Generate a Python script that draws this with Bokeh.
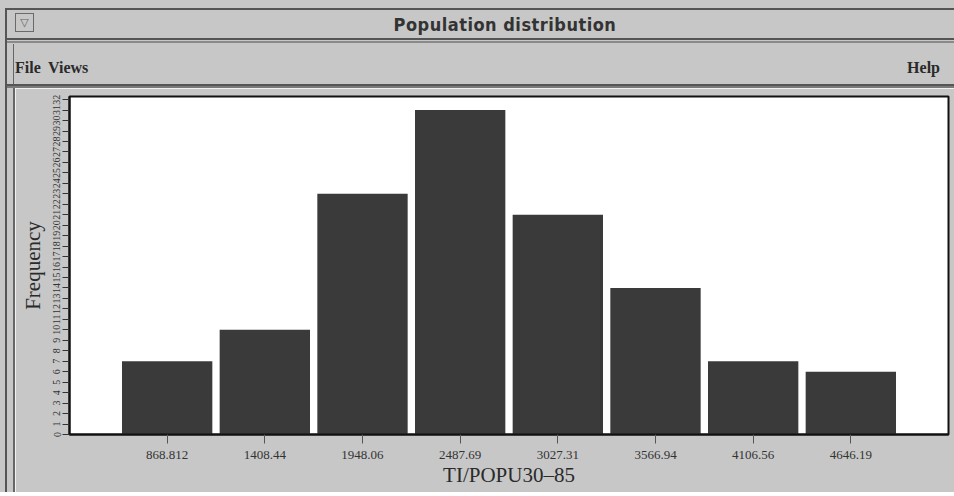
from bokeh.plotting import figure
from bokeh.models import Range1d, FixedTicker, Div
from bokeh.layouts import column, row
from bokeh.embed import file_html
from bokeh.resources import INLINE

# Histogram of TI/POPU30-85: bin centres, their printed labels and counts
bin_centers = [868.812, 1408.44, 1948.06, 2487.69, 3027.31, 3566.94, 4106.56, 4646.19]
bin_labels = ["868.812", "1408.44", "1948.06", "2487.69", "3027.31", "3566.94", "4106.56", "4646.19"]
frequencies = [7, 10, 23, 31, 21, 14, 7, 6]
freq_ticks = list(range(0, 33))

window_title = "Population distribution"
menu_left = ["File", "Views"]
menu_right = "Help"

bin_width = (bin_centers[-1] - bin_centers[0]) / (len(bin_centers) - 1)

W = 954
HEADER_H, SIDE_W, FOOT_H = 88, 15, 4
PLOT_H = 496 - HEADER_H - FOOT_H
WIN_GRAY = "#c7c7c7"
LINE = "#555555"
DARK = "#2a2a2a"
SERIF = "Liberation Serif"


def block(l, t, w, h, css):
    return (f'<div style="position:absolute;left:{l}px;top:{t}px;width:{w}px;'
            f'height:{h}px;{css}"></div>')


def word(l, t, s, css):
    return f'<div style="position:absolute;left:{l}px;top:{t}px;white-space:nowrap;{css}">{s}</div>'


# --- title bar and menu bar -------------------------------------------------
menu_css = (f"font-family:'{SERIF}',serif;font-weight:bold;font-size:16px;"
            f"color:{DARK};line-height:18px;")
header_parts = [
    block(0, 0, W, HEADER_H, f"background:{WIN_GRAY};"),
    block(5, 8, W - 5, 2, f"background:{LINE};"),
    block(5, 8, 2, HEADER_H - 8, f"background:{LINE};"),
    block(13, 44, 1, HEADER_H - 44, "background:#666666;"),
    # window-menu button
    block(15, 13, 19, 19, "border:1px solid #6a6a6a;box-sizing:border-box;"),
    word(17, 13, "\u25bd", "font-family:'DejaVu Sans';font-size:11px;color:#666;"
                          "width:15px;text-align:center;line-height:19px;"),
    # title
    f'<div style="position:absolute;left:0;top:15px;width:1010px;text-align:center;'
    f"font-family:'Liberation Sans Narrow','DejaVu Sans Condensed',sans-serif;"
    f'font-weight:bold;font-size:18px;letter-spacing:0.5px;color:#333;line-height:20px;">'
    f'{window_title}</div>',
    # separators
    block(7, 38, W - 7, 2, f"background:{LINE};"),
    block(7, 41, W - 7, 2, "background:#8a8a8a;"),
    block(7, 84, W - 7, 2, f"background:{LINE};"),
    block(7, 86, W - 7, 2, "background:#7a7a7a;"),
    word(15, 59, menu_left[0], menu_css),
    word(48, 59, menu_left[1], menu_css),
    f'<div style="position:absolute;right:14px;top:59px;{menu_css}">{menu_right}</div>',
]
header = Div(text='<div style="position:relative;width:954px;height:88px;overflow:hidden;">'
             + "".join(header_parts) + "</div>",
             width=W, height=HEADER_H, margin=0)

# --- left window edge beside the plot ----------------------------------------
side = Div(text=f'<div style="position:relative;width:{SIDE_W}px;height:{PLOT_H}px;'
           f'background:{WIN_GRAY};overflow:hidden;">'
           + block(5, 0, 2, PLOT_H, f"background:{LINE};")
           + block(13, 0, 2, PLOT_H, "background:#666666;")
           + "</div>",
           width=SIDE_W, height=PLOT_H, margin=0)

# --- bottom window edge -----------------------------------------------------
footer = Div(text=f'<div style="position:relative;width:{W}px;height:{FOOT_H}px;'
             f'background:{WIN_GRAY};overflow:hidden;">'
             + block(5, 0, 2, FOOT_H, f"background:{LINE};")
             + block(13, 0, 2, 1, "background:#666666;")
             + block(5, 2, W - 5, 2, f"background:{LINE};")
             + "</div>",
             width=W, height=FOOT_H, margin=0)

# --- histogram ----------------------------------------------------------------
FRAME_LEFT, FRAME_TOP, FRAME_BOTTOM, FRAME_RIGHT = 69, 96, 434, 948
p = figure(width=W - SIDE_W, height=PLOT_H, output_backend="svg", toolbar_location=None,
           x_range=Range1d(bin_centers[0] - bin_width, bin_centers[-1] + bin_width),
           y_range=Range1d(0, 32.3),
           min_border_left=FRAME_LEFT - SIDE_W, min_border_right=W - FRAME_RIGHT,
           min_border_top=FRAME_TOP - HEADER_H,
           min_border_bottom=HEADER_H + PLOT_H - FRAME_BOTTOM, margin=0)
p.background_fill_color = "white"
p.border_fill_color = WIN_GRAY
p.outline_line_color = "#111111"
p.outline_line_width = 2
p.grid.visible = False

p.vbar(x=bin_centers, top=frequencies, width=bin_width * 0.925,
       fill_color="#3a3a3a", line_color=None)

# x axis: one tick per bin centre
xa = p.xaxis[0]
xa.ticker = FixedTicker(ticks=bin_centers)
xa.major_label_overrides = {c: l for c, l in zip(bin_centers, bin_labels)}
xa.axis_label = "TI/POPU30\u201385"
xa.axis_label_text_font = SERIF
xa.axis_label_text_font_size = "21px"
xa.axis_label_text_font_style = "normal"
xa.axis_label_text_color = DARK
xa.axis_label_standoff = 1
xa.major_label_text_font = SERIF
xa.major_label_text_font_size = "13px"
xa.major_label_text_color = "#333333"
xa.major_label_standoff = 7
xa.major_tick_in = 0
xa.major_tick_out = 9
xa.major_tick_line_color = "#555555"
xa.minor_tick_line_color = None
xa.axis_line_color = "#111111"
xa.axis_line_width = 2

# y axis: every integer count, labels turned upright
ya = p.yaxis[0]
ya.ticker = FixedTicker(ticks=freq_ticks)
ya.major_label_orientation = "vertical"
ya.axis_label = "Frequency"
ya.axis_label_text_font = SERIF
ya.axis_label_text_font_size = "21px"
ya.axis_label_text_font_style = "normal"
ya.axis_label_text_color = DARK
ya.axis_label_standoff = 6
ya.major_label_text_font = SERIF
ya.major_label_text_font_size = "10px"
ya.major_label_text_color = "#333333"
ya.major_label_standoff = 2
ya.major_tick_in = 0
ya.major_tick_out = 7
ya.major_tick_line_color = "#333333"
ya.minor_tick_line_color = None
ya.axis_line_color = "#111111"
ya.axis_line_width = 2

page = column(header, row(side, p, spacing=0), footer, spacing=0)
open("out.html", "w").write(file_html(page, INLINE))
